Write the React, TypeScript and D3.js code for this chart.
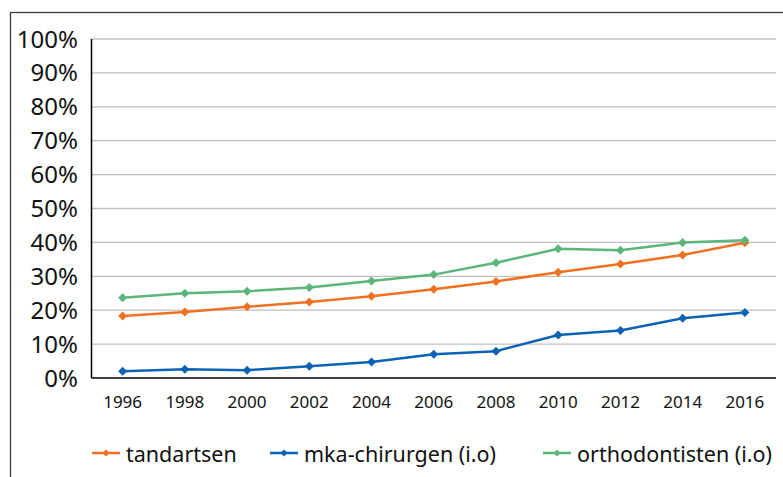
import React from "react";
import * as d3 from "d3";

const years = ["1996","1998","2000","2002","2004","2006","2008","2010","2012","2014","2016"];
const tandartsen = [18.3,19.5,21.0,22.4,24.1,26.2,28.5,31.2,33.6,36.3,39.9];
const mka = [2.0,2.6,2.3,3.5,4.7,7.0,7.9,12.7,14.0,17.6,19.3];
const ortho = [23.7,25.0,25.6,26.7,28.6,30.5,34.0,38.1,37.7,40.0,40.6];
const yTicks = [0,10,20,30,40,50,60,70,80,90,100];

const series = [
  { name: "tandartsen", values: tandartsen, color: "#F07122" },
  { name: "mka-chirurgen (i.o)", values: mka, color: "#0B63B3" },
  { name: "orthodontisten (i.o)", values: ortho, color: "#5BB67A" },
];

const W = 783, H = 477;
const left = 91.5, right = 776, top = 39, bottom = 378;
const font = "'Noto Sans', 'Open Sans', sans-serif";

export default function App() {
  const x = d3.scaleBand().domain(years).range([left, right]);
  const y = d3.scaleLinear().domain([0, 100]).range([bottom, top]);
  const line = d3.line<number>().x((_, i) => x(years[i])! + x.bandwidth() / 2).y(v => y(v));
  const diamond = (cx: number, cy: number, r = 4.5) => `M${cx},${cy - r}L${cx + r},${cy}L${cx},${cy + r}L${cx - r},${cy}Z`;
  const legendX = [92, 270, 543];
  return (
    <svg width={W} height={H} style={{ position: "absolute", left: 0, top: 0, background: "#fff" }}>
      <rect x={10.5} y={12.5} width={W + 20} height={H + 20} fill="#fff" stroke="#404040" strokeWidth={1.3} />
      {yTicks.filter(t => t > 0).map(t => (
        <line key={t} x1={left} x2={right} y1={y(t)} y2={y(t)} stroke="#BFBFBF" strokeWidth={1.3} />
      ))}
      <line x1={left} x2={left} y1={top} y2={bottom} stroke="#000" strokeWidth={1.5} />
      <line x1={left} x2={right} y1={bottom} y2={bottom} stroke="#000" strokeWidth={1.5} />
      {yTicks.map(t => (
        <text key={t} x={78} y={y(t) - 1} textAnchor="end" dominantBaseline="central" fontFamily={font} fontSize={24} fill="#111">{t}%</text>
      ))}
      {years.map(yr => (
        <text key={yr} x={x(yr)! + x.bandwidth() / 2} y={408} textAnchor="middle" fontFamily={font} fontSize={17} fill="#111">{yr}</text>
      ))}
      {[series[0], series[2], series[1]].map(s => (
        <g key={s.name}>
          <path d={line(s.values)!} fill="none" stroke={s.color} strokeWidth={2.5} />
          {s.values.map((v, i) => (
            <path key={i} d={diamond(x(years[i])! + x.bandwidth() / 2, y(v))} fill={s.color} />
          ))}
        </g>
      ))}
      {series.map((s, i) => (
        <g key={s.name}>
          <line x1={legendX[i]} x2={legendX[i] + 28} y1={453} y2={453} stroke={s.color} strokeWidth={2.5} />
          <path d={diamond(legendX[i] + 14, 453, 3.5)} fill={s.color} />
          <text x={legendX[i] + 34} y={453} dominantBaseline="central" fontFamily={font} fontSize={21.5} fill="#111">{s.name}</text>
        </g>
      ))}
    </svg>
  );
}
